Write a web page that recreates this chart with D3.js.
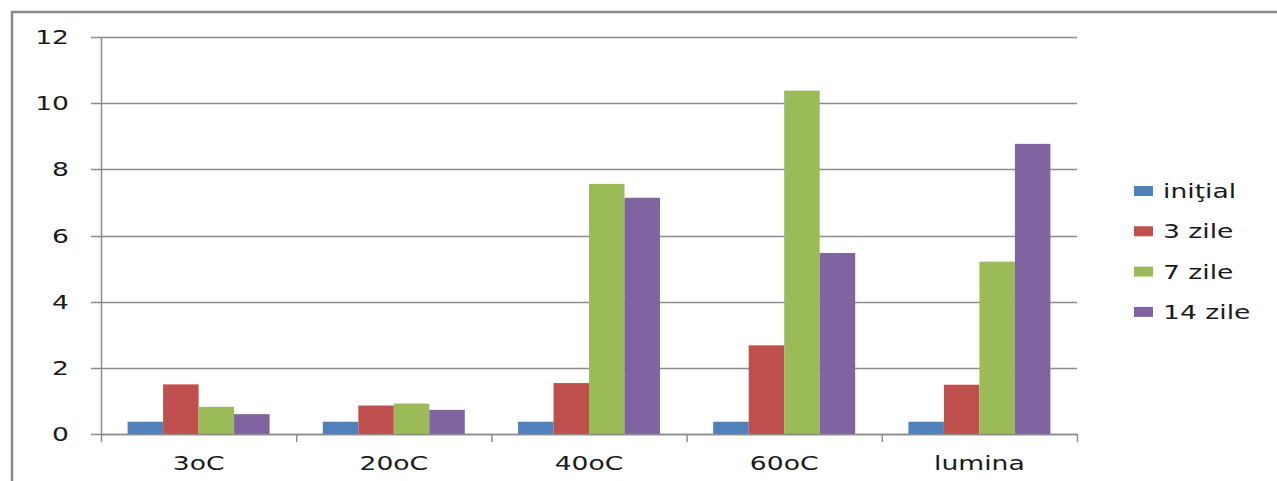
<!DOCTYPE html>
<html>
<head>
<meta charset="utf-8">
<script src="https://cdn.jsdelivr.net/npm/d3@7"></script>
<style>
  html, body { margin: 0; padding: 0; background: #fff; }
  svg { display: block; }
  text { font-family: "DejaVu Sans", Verdana, sans-serif; fill: #1a1a1a; }
</style>
</head>
<body>
<svg id="chart" width="1277" height="481"></svg>
<script>
// Conditions (x categories)
const categories = ["3oC", "20oC", "40oC", "60oC", "lumina"];
// Storage duration series
const seriesNames = ["iniţial", "3 zile", "7 zile", "14 zile"];
const seriesColors = ["#4F81BD", "#C0504D", "#9BBB59", "#8064A2"];
// Values per series, in category order
const initial = [0.37, 0.37, 0.37, 0.37, 0.37];
const zile3   = [1.50, 0.86, 1.54, 2.68, 1.49];
const zile7   = [0.82, 0.92, 7.56, 10.38, 5.21];
const zile14  = [0.60, 0.73, 7.14, 5.47, 8.77];
const yTicks = [0, 2, 4, 6, 8, 10, 12];

const seriesValues = [initial, zile3, zile7, zile14];

const svg = d3.select("#chart");
const W = 1277, H = 481;
const plot = { left: 101, right: 1077, top: 37, bottom: 434 };
const SX = 1.4; // horizontal stretch of the lettering

// outer frame
svg.append("rect")
  .attr("x", 12).attr("y", 12)
  .attr("width", W + 20).attr("height", H + 20)
  .attr("fill", "none").attr("stroke", "#8a8a8a").attr("stroke-width", 2.5);

const x = d3.scaleBand().domain(categories).range([plot.left, plot.right]).paddingInner(0).paddingOuter(0);
const y = d3.scaleLinear().domain([0, 12]).range([plot.bottom, plot.top]);

// 4 bars + gap of 150% of bar width per category
const barW = x.bandwidth() / 5.5;
const gap = barW * 1.5;
const xs = d3.scaleBand().domain(d3.range(seriesNames.length))
  .range([gap / 2, x.bandwidth() - gap / 2]).padding(0);

// gridlines (with outward tick)
const grid = svg.append("g");
grid.selectAll("line").data(yTicks).join("line")
  .attr("x1", plot.left - 10).attr("x2", plot.right)
  .attr("y1", d => Math.round(y(d)) + 0.5).attr("y2", d => Math.round(y(d)) + 0.5)
  .attr("stroke", "#8c8c8c").attr("stroke-width", 1.3);

// y labels
svg.append("g").selectAll("text").data(yTicks).join("text")
  .attr("transform", d => `translate(69,${y(d) + 7}) scale(${SX},1)`)
  .attr("text-anchor", "end")
  .attr("font-size", 19)
  .text(d => d);

// bars
const groups = svg.append("g").selectAll("g").data(categories).join("g")
  .attr("transform", d => `translate(${x(d)},0)`);
groups.selectAll("rect")
  .data((c, ci) => seriesValues.map((vals, si) => ({ si, v: vals[ci] })))
  .join("rect")
  .attr("x", d => xs(d.si))
  .attr("width", xs.bandwidth())
  .attr("y", d => y(d.v))
  .attr("height", d => y(0) - y(d.v))
  .attr("fill", d => seriesColors[d.si]);

// y axis line
svg.append("line")
  .attr("x1", plot.left + 0.5).attr("x2", plot.left + 0.5)
  .attr("y1", plot.top).attr("y2", plot.bottom)
  .attr("stroke", "#8c8c8c").attr("stroke-width", 1.5);

// x axis line and category ticks
svg.append("line")
  .attr("x1", plot.left).attr("x2", plot.right)
  .attr("y1", plot.bottom + 0.5).attr("y2", plot.bottom + 0.5)
  .attr("stroke", "#8c8c8c").attr("stroke-width", 1.5);
const bounds = categories.map(c => x(c)).concat([plot.right]);
svg.append("g").selectAll("line").data(bounds).join("line")
  .attr("x1", d => d + 0.5).attr("x2", d => d + 0.5)
  .attr("y1", plot.bottom).attr("y2", plot.bottom + 8)
  .attr("stroke", "#8c8c8c").attr("stroke-width", 1.5);

// x labels
svg.append("g").selectAll("text").data(categories).join("text")
  .attr("transform", d => `translate(${x(d) + x.bandwidth() / 2},470) scale(${SX},1)`)
  .attr("text-anchor", "middle")
  .attr("font-size", 19)
  .text(d => d);

// legend
const legend = svg.append("g").selectAll("g").data(seriesNames).join("g")
  .attr("transform", (d, i) => `translate(1134,${191 + i * 40.3})`);
legend.append("rect")
  .attr("x", 0).attr("y", -5).attr("width", 19).attr("height", 10)
  .attr("fill", (d, i) => seriesColors[i]);
legend.append("text")
  .attr("transform", `translate(29,7) scale(${SX},1)`)
  .attr("font-size", 19)
  .text(d => d);
</script>
</body>
</html>
